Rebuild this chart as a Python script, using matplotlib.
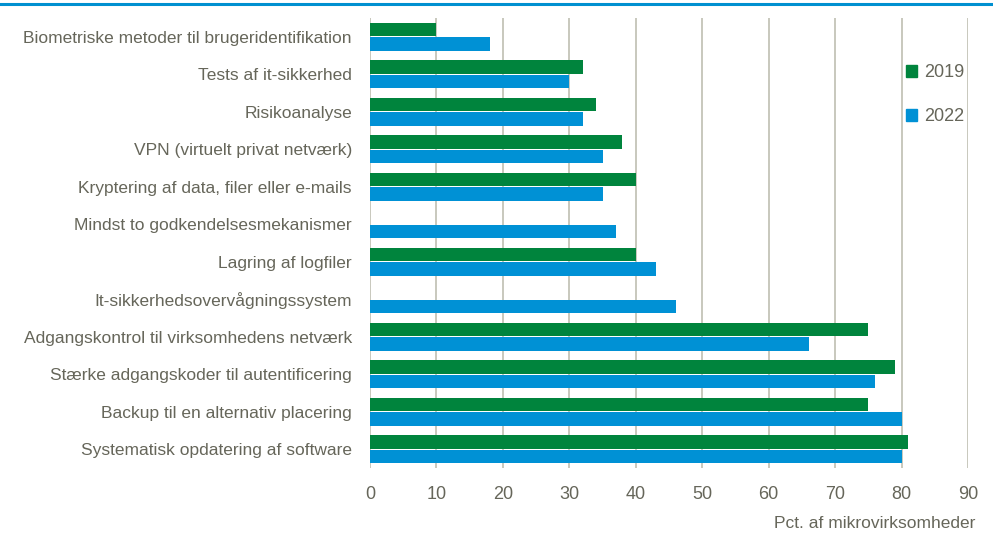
import matplotlib.pyplot as plt
import matplotlib.lines as mlines
import matplotlib.patches as mpatches
import numpy as np
from matplotlib import font_manager

kategorier = [
    'Biometriske metoder til brugeridentifikation',
    'Tests af it-sikkerhed',
    'Risikoanalyse',
    'VPN (virtuelt privat netværk)',
    'Kryptering af data, filer eller e-mails',
    'Mindst to godkendelsesmekanismer',
    'Lagring af logfiler',
    'It-sikkerhedsovervågningssystem',
    'Adgangskontrol til virksomhedens netværk',
    'Stærke adgangskoder til autentificering',
    'Backup til en alternativ placering',
    'Systematisk opdatering af software',
]
v2019 = [10, 32, 34, 38, 40, np.nan, 40, np.nan, 75, 79, 75, 81]
v2022 = [18, 30, 32, 35, 35, 37, 43, 46, 66, 76, 80, 80]
xticks = [0, 10, 20, 30, 40, 50, 60, 70, 80, 90]

names = {f.name for f in font_manager.fontManager.ttflist}
fam = 'Liberation Sans Narrow' if 'Liberation Sans Narrow' in names else 'Liberation Sans'
plt.rcParams['font.family'] = [fam, 'DejaVu Sans']

tekst = '#66665a'
groen = '#00843d'
blaa = '#0091d5'
grid = '#c4c4b8'

fig = plt.figure(figsize=(9.93, 5.34), dpi=100)
ax = fig.add_axes([370/993, 1-468/534, 598/993, 450/534])

y = np.arange(len(kategorier))
h = 0.36
ax.barh(y - h/2 - 0.01, v2019, height=h, color=groen, label='2019')
ax.barh(y + h/2 + 0.01, v2022, height=h, color=blaa, label='2022')

ax.set_ylim(len(kategorier) - 0.5, -0.5)
ax.set_xlim(0, 90)
ax.set_xticks(xticks)
ax.set_yticks(y)
ax.set_yticklabels(kategorier, fontsize=12.5, color=tekst)
ax.tick_params(axis='y', length=0, pad=13)
ax.tick_params(axis='x', length=0, pad=13, labelsize=13, labelcolor=tekst)
for s in ax.spines.values():
    s.set_visible(False)
ax.grid(axis='x', color=grid, linewidth=1.3)
ax.set_axisbelow(True)

fig.text(975/993, 1-524/534, 'Pct. af mikrovirksomheder', ha='right', va='center',
         fontsize=12.5, color=tekst)

handles = [mpatches.Patch(color=groen, label='2019'), mpatches.Patch(color=blaa, label='2022')]
fig.legend(handles=handles, loc='upper left', bbox_to_anchor=(890/993, 1-48/534),
           frameon=False, fontsize=13, labelcolor=tekst, handlelength=0.6,
           handleheight=0.6, handletextpad=0.4, labelspacing=1.5)

fig.add_artist(mlines.Line2D([0, 1], [1-4/534, 1-4/534], color='#0090d0', linewidth=2.2,
                             transform=fig.transFigure))

fig.savefig('out.png', dpi=100)
